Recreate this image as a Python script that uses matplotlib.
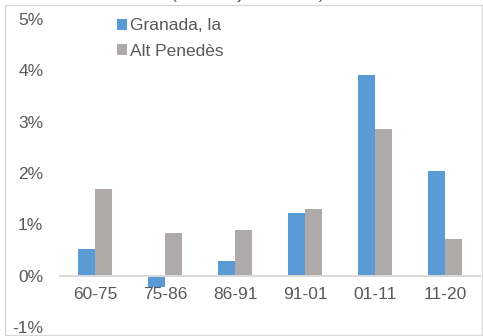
import matplotlib
matplotlib.use("Agg")
import matplotlib.pyplot as plt
import numpy as np
from matplotlib.patches import Rectangle

categories = ["60-75", "75-86", "86-91", "91-01", "01-11", "11-20"]
granada = [0.51, -0.23, 0.29, 1.22, 3.90, 2.03]
alt_penedes = [1.69, 0.83, 0.89, 1.30, 2.85, 0.72]
series_names = ["Granada, la", "Alt Penedès"]
title = "(taxa mitjana anual)"
yticks = [-1, 0, 1, 2, 3, 4, 5]

plt.rcParams['font.family'] = ['Liberation Sans', 'DejaVu Sans']
W, H = 483, 336
fig = plt.figure(figsize=(W / 100, H / 100), dpi=100)

# outer chart frame
fig.patches.append(Rectangle((5 / W, 1 / H), (W - 6) / W, (H - 6) / H,
                             transform=fig.transFigure, fill=False,
                             edgecolor='#d9d9d9', linewidth=1.0))
fig.text(248 / W, (H + 1) / H, title, ha='center', va='baseline',
         fontsize=12.5, color='#595959')

ax = fig.add_axes([60 / W, (H - 327) / H, 420 / W, 308 / H])
x = np.arange(len(categories))
w = 0.245
ax.bar(x - w / 2, granada, w, color='#5B9BD5', label=series_names[0])
ax.bar(x + w / 2, alt_penedes, w, color='#AEAAAA', label=series_names[1])

ax.set_xlim(-0.5, len(categories) - 0.5)
ax.set_ylim(-1, 5)
ax.set_yticks(yticks)
ax.set_yticklabels([f"{v}%" for v in yticks])
ax.set_xticks(x)
ax.set_xticklabels(categories)
for s in ['top', 'right', 'left']:
    ax.spines[s].set_visible(False)
ax.spines['bottom'].set_position(('data', 0))
ax.spines['bottom'].set_color('#d9d9d9')
ax.spines['bottom'].set_linewidth(1.5)
ax.tick_params(axis='both', length=0, labelsize=12.5, colors='#595959')
ax.tick_params(axis='y', pad=12)
ax.tick_params(axis='x', pad=8)
ax.patch.set_visible(False)

leg = ax.legend(loc='upper left', bbox_to_anchor=(0.0986, 1.053), frameon=False,
                fontsize=12.5, handlelength=0.6, handleheight=0.6,
                handletextpad=0.15, labelspacing=0.6, labelcolor='#595959')

fig.savefig("out.png", dpi=100)
